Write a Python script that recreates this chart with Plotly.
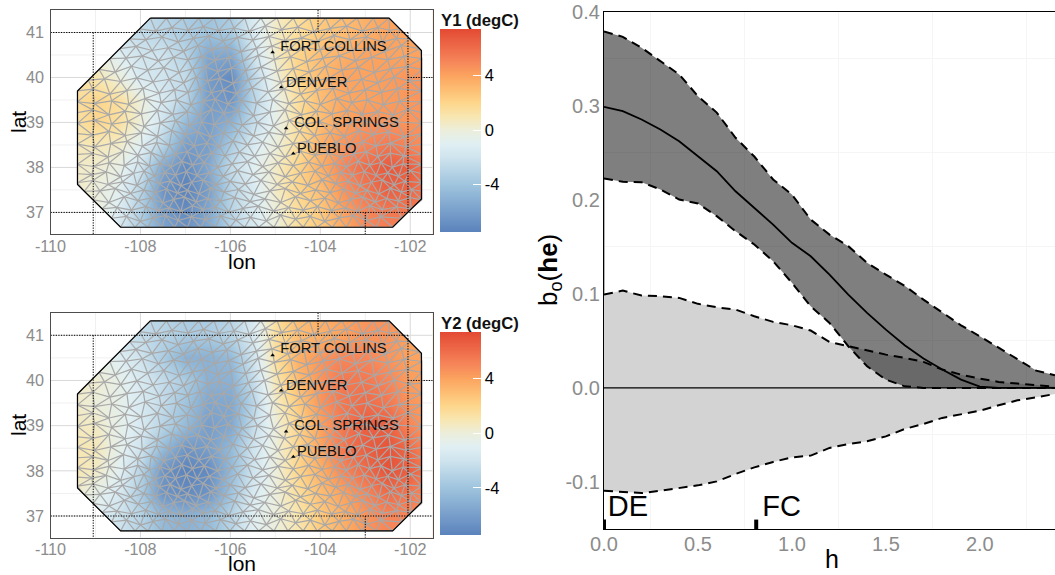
import plotly.graph_objects as go

W, H = 1055, 575

# ---------- Map data: temperature fields ----------
LON = [-109.5, -109, -108.5, -108, -107.5, -107, -106.5, -106, -105.5, -105, -104.5, -104, -103.5, -103, -102.5, -102, -101.5]
LAT = [36.5, 37, 37.5, 38, 38.5, 39, 39.5, 40, 40.5, 41, 41.5]
Y1 = [
    [0.3, 0.0, -1.5, -3.5, -5.5, -6.5, -5.5, -3.0, -1.5, 0.0, 1.5, 2.5, 3.5, 4.8, 5.2, 5.2, 5.0],
    [0.4, 0.0, -1.2, -3.3, -6.0, -7.0, -5.5, -3.0, -1.5, 0.0, 1.5, 2.5, 4.0, 5.0, 5.5, 5.5, 5.0],
    [0.5, 0.0, -0.8, -3.0, -6.5, -7.4, -6.0, -3.0, -1.5, 0.5, 2.0, 3.0, 4.5, 5.5, 6.5, 6.3, 5.0],
    [0.5, 0.3, -0.3, -2.0, -5.5, -7.0, -5.5, -2.5, -1.0, 0.5, 2.0, 3.5, 5.0, 6.0, 6.8, 6.5, 5.0],
    [0.8, 0.8, 0.5, -1.0, -3.0, -6.0, -6.0, -3.5, -1.5, 0.0, 1.5, 3.5, 4.5, 5.0, 5.5, 5.0, 4.5],
    [1.2, 2.0, 1.5, 0.0, -2.0, -4.5, -6.0, -5.0, -2.5, -0.5, 1.5, 3.0, 4.0, 4.5, 4.5, 4.5, 4.5],
    [1.5, 2.0, 1.5, 0.0, -1.5, -3.0, -6.0, -6.5, -3.0, -0.5, 1.5, 3.0, 3.8, 4.0, 4.2, 4.4, 4.5],
    [1.0, 1.0, 0.0, -1.5, -2.0, -2.5, -6.0, -7.0, -3.0, 0.0, 2.0, 3.0, 4.0, 4.0, 4.2, 4.5, 4.5],
    [0.5, 0.0, -1.0, -2.0, -2.0, -3.0, -5.5, -5.5, -2.0, 0.5, 2.0, 3.0, 3.5, 4.0, 4.0, 4.0, 4.0],
    [0.0, -1.0, -2.0, -2.5, -3.0, -3.5, -4.0, -3.5, -1.5, 0.5, 1.5, 2.5, 3.0, 3.5, 4.0, 4.0, 4.0],
    [0.0, -1.0, -2.0, -2.5, -3.0, -3.5, -4.0, -3.5, -1.5, 0.5, 1.5, 2.5, 3.0, 3.5, 4.0, 4.0, 4.0],
]
Y2 = [
    [-1.0, -1.0, -2.0, -3.0, -4.5, -5.0, -4.5, -3.0, -1.0, 0.0, 1.0, 2.5, 3.5, 4.5, 5.0, 5.0, 4.0],
    [-1.0, -1.0, -2.0, -3.0, -4.5, -5.0, -4.5, -3.0, -1.0, 0.0, 1.0, 2.5, 3.5, 4.5, 5.0, 5.0, 4.0],
    [0.5, -0.5, -1.5, -3.5, -6.5, -7.0, -6.5, -4.0, -1.5, 0.0, 1.5, 3.0, 4.0, 5.0, 6.0, 5.5, 4.5],
    [1.0, 0.5, -0.8, -3.0, -6.5, -7.4, -7.0, -4.5, -2.0, 0.0, 2.0, 3.5, 5.0, 6.0, 7.0, 6.5, 5.0],
    [1.0, 0.8, -0.5, -2.0, -4.5, -6.5, -6.0, -4.5, -2.0, 0.0, 2.0, 4.0, 5.5, 6.5, 7.0, 6.0, 4.5],
    [0.7, 0.5, -0.5, -1.5, -3.0, -4.5, -6.0, -5.5, -2.5, 0.0, 2.0, 4.0, 5.5, 6.5, 6.5, 5.0, 4.0],
    [0.5, 0.0, -0.5, -1.5, -2.5, -4.0, -5.5, -5.5, -3.0, 0.5, 2.5, 4.5, 5.5, 6.0, 5.5, 4.5, 4.0],
    [0.5, 0.3, -0.5, -1.5, -2.5, -3.5, -5.0, -5.0, -2.5, 1.0, 3.0, 4.5, 5.5, 5.5, 5.0, 4.2, 4.0],
    [0.0, -0.5, -1.0, -2.0, -3.5, -5.0, -5.0, -4.5, -2.0, 1.5, 3.5, 4.5, 5.0, 5.0, 4.5, 4.0, 4.0],
    [-0.5, -1.0, -2.0, -2.5, -3.0, -3.5, -3.5, -3.0, -1.5, 1.5, 3.0, 3.5, 4.0, 4.5, 4.5, 4.0, 4.0],
    [-0.5, -1.0, -2.0, -2.5, -3.0, -3.5, -3.5, -3.0, -1.5, 1.5, 3.0, 3.5, 4.0, 4.5, 4.5, 4.0, 4.0],
]
Z_RANGE = [-7.45, 7.4]
COLOR_STOPS = [(-7.45, "#5b83bc"), (-4, "#9fc4de"), (-2, "#cfe4ee"), (-1, "#e0eff3"), (0, "#eceedb"),
               (1, "#f8e6b0"), (2, "#fdd68b"), (3, "#fdbd72"), (4, "#fba35f"), (5, "#f6865a"),
               (6, "#ee6c4a"), (7.4, "#e34a33")]

REGION_LON = [-107.78, -102.47, -101.75, -101.75, -102.39, -108.44, -109.4, -109.4, -107.78]
REGION_LAT = [41.32, 41.32, 40.6, 37.3, 36.67, 36.67, 37.62, 39.7, 41.32]

CITY = ["FORT COLLINS", "DENVER", "COL. SPRINGS", "PUEBLO"]
CITY_LON = [-105.06, -104.87, -104.76, -104.6]
CITY_LAT = [40.56, 39.78, 38.87, 38.31]
CITY_LABEL_LON = [-104.89, -104.76, -104.58, -104.52]
CITY_LABEL_LAT = [40.68, 39.88, 38.98, 38.41]

# Mesh nodes, row by row
MESH_LAT = [36.67, 36.87, 37.08, 37.28, 37.47, 37.66, 37.86, 38.07, 38.29, 38.52, 38.75,
            38.98, 39.22, 39.46, 39.7, 39.94, 40.18, 40.42, 40.64, 40.86, 41.08, 41.32]
MESH_LON = [
    [-108.44,-108.12,-107.83,-107.52,-107.24,-106.95,-106.66,-106.33,-106.01,-105.68,-105.37,-105.03,-104.72,-104.38,-104.07,-103.73,-103.42,-103.08,-102.75,-102.39],
    [-108.64,-108.31,-108.0,-107.72,-107.44,-107.16,-106.87,-106.56,-106.22,-105.88,-105.55,-105.2,-104.88,-104.55,-104.22,-103.9,-103.58,-103.27,-102.97,-102.66,-102.19],
    [-108.85,-108.52,-108.2,-107.88,-107.6,-107.36,-107.1,-106.84,-106.6,-106.34,-106.03,-105.72,-105.38,-105.04,-104.7,-104.38,-104.06,-103.75,-103.44,-103.17,-102.9,-102.62,-102.3,-101.98],
    [-109.05,-108.7,-108.36,-108.05,-107.76,-107.5,-107.26,-107.02,-106.76,-106.5,-106.22,-105.9,-105.56,-105.23,-104.88,-104.55,-104.22,-103.9,-103.6,-103.32,-103.05,-102.78,-102.52,-102.26,-102.0,-101.74],
    [-109.25,-108.9,-108.56,-108.22,-107.92,-107.66,-107.42,-107.18,-106.95,-106.7,-106.44,-106.14,-105.82,-105.48,-105.12,-104.78,-104.44,-104.1,-103.78,-103.48,-103.22,-102.96,-102.7,-102.44,-102.2,-101.97,-101.74],
    [-109.4,-109.06,-108.72,-108.4,-108.08,-107.82,-107.58,-107.34,-107.1,-106.86,-106.6,-106.32,-106.0,-105.67,-105.32,-104.96,-104.62,-104.28,-103.96,-103.66,-103.38,-103.12,-102.86,-102.62,-102.36,-102.12,-101.74],
    [-109.4,-109.08,-108.76,-108.44,-108.15,-107.92,-107.68,-107.46,-107.22,-106.98,-106.74,-106.47,-106.16,-105.84,-105.5,-105.14,-104.78,-104.44,-104.12,-103.82,-103.54,-103.28,-103.02,-102.76,-102.5,-102.26,-102.0,-101.74],
    [-109.4,-109.04,-108.7,-108.36,-108.06,-107.8,-107.56,-107.32,-107.08,-106.84,-106.58,-106.28,-105.96,-105.62,-105.28,-104.94,-104.6,-104.26,-103.96,-103.68,-103.42,-103.16,-102.9,-102.65,-102.4,-102.16,-101.74],
    [-109.4,-109.06,-108.72,-108.38,-108.06,-107.76,-107.48,-107.22,-106.96,-106.7,-106.42,-106.12,-105.8,-105.46,-105.12,-104.78,-104.44,-104.12,-103.82,-103.54,-103.26,-102.98,-102.72,-102.44,-102.14,-101.74],
    [-109.4,-109.02,-108.66,-108.3,-107.96,-107.64,-107.36,-107.08,-106.8,-106.52,-106.24,-105.94,-105.62,-105.28,-104.94,-104.6,-104.28,-103.96,-103.66,-103.36,-103.06,-102.76,-102.44,-102.1,-101.74],
    [-109.4,-109.06,-108.7,-108.34,-107.98,-107.62,-107.3,-107.0,-106.72,-106.44,-106.14,-105.82,-105.48,-105.14,-104.8,-104.46,-104.12,-103.78,-103.46,-103.14,-102.82,-102.48,-102.12,-101.74],
    [-109.4,-109.02,-108.64,-108.28,-107.92,-107.56,-107.22,-106.92,-106.64,-106.36,-106.06,-105.74,-105.4,-105.04,-104.7,-104.36,-104.02,-103.68,-103.34,-103.0,-102.66,-102.3,-101.74],
    [-109.4,-109.06,-108.7,-108.34,-107.98,-107.62,-107.28,-106.96,-106.68,-106.42,-106.14,-105.82,-105.48,-105.12,-104.78,-104.42,-104.08,-103.74,-103.4,-103.06,-102.72,-102.38,-102.06,-101.74],
    [-109.4,-109.02,-108.64,-108.26,-107.9,-107.54,-107.2,-106.88,-106.6,-106.34,-106.06,-105.76,-105.42,-105.06,-104.7,-104.34,-104.0,-103.64,-103.3,-102.96,-102.6,-102.24,-101.74],
    [-109.4,-109.06,-108.68,-108.3,-107.94,-107.58,-107.24,-106.94,-106.68,-106.42,-106.16,-105.86,-105.52,-105.16,-104.8,-104.44,-104.08,-103.72,-103.36,-103.0,-102.64,-102.28,-101.74],
    [-109.16,-108.8,-108.44,-108.08,-107.72,-107.36,-107.04,-106.76,-106.5,-106.24,-105.94,-105.6,-105.24,-104.88,-104.52,-104.16,-103.8,-103.44,-103.08,-102.72,-102.36,-102.02,-101.74],
    [-108.92,-108.56,-108.2,-107.84,-107.48,-107.14,-106.84,-106.56,-106.28,-105.98,-105.66,-105.32,-104.96,-104.6,-104.24,-103.88,-103.52,-103.16,-102.8,-102.44,-102.08,-101.74],
    [-108.68,-108.32,-107.96,-107.6,-107.26,-106.94,-106.64,-106.34,-106.04,-105.72,-105.38,-105.02,-104.66,-104.3,-103.94,-103.58,-103.22,-102.86,-102.5,-102.14,-101.74],
    [-108.46,-108.1,-107.74,-107.38,-107.04,-106.72,-106.4,-106.08,-105.76,-105.42,-105.08,-104.72,-104.36,-104.0,-103.64,-103.28,-102.92,-102.56,-102.2,-101.79],
    [-108.24,-107.88,-107.52,-107.16,-106.82,-106.48,-106.16,-105.84,-105.5,-105.14,-104.78,-104.42,-104.06,-103.7,-103.34,-102.98,-102.62,-102.3,-102.01],
    [-108.02,-107.66,-107.3,-106.94,-106.6,-106.26,-105.92,-105.58,-105.22,-104.86,-104.5,-104.14,-103.78,-103.42,-103.06,-102.72,-102.46,-102.23],
    [-107.78,-107.42,-107.06,-106.7,-106.36,-106.02,-105.68,-105.32,-104.96,-104.6,-104.24,-103.88,-103.52,-103.18,-102.82,-102.47],
]
NODE_SHIFT = [.05, -.04, .02, -.06, .07, -.02, .04, -.07, .01, .06, -.05, .03, -.03]

# State lines
STATE_LON = [-110, -102.05, None, -110, -101.5, None, -109.05, -109.05, None, -102.05, -102.05, None,
             -102.05, -101.5, None, -104.05, -104.05, None, -103, -103]
STATE_LAT = [41, 41, None, 37, 37, None, 41, 36.52, None, 41, 37, None, 40, 40, None, 41.5, 41, None, 37, 36.52]

# ---------- Right panel data ----------
H_GRID = [0, .1, .2, .3, .4, .5, .6, .7, .8, .9, 1.0, 1.1, 1.2, 1.3, 1.4, 1.5, 1.6, 1.7, 1.8, 1.9, 2.0, 2.1, 2.2, 2.3, 2.4]
B_MEAN = [.2989, .2943, .2854, .2748, .2623, .2464, .2304, .2091, .1915, .1737, .1543, .14, .1205, .0993, .0798, .062, .0453, .0312, .0195, .0088, .0014, 0, 0, 0, 0]
B_UP = [.379, .3733, .3617, .3475, .3333, .3102, .2927, .266, .246, .2216, .2056, .179, .163, .1507, .133, .1205, .1085, .0939, .0798, .0666, .0549, .0426, .0301, .0184, .0134]
B_LOW = [.2227, .2191, .2187, .211, .2003, .1961, .1826, .1666, .1525, .1347, .1117, .0868, .0691, .0443, .023, .0088, .0017, 0, 0, 0, 0, 0, 0, 0, 0]
ENV_UP = [.0993, .1035, .0982, .0975, .0957, .0894, .0857, .0833, .0762, .0702, .0666, .061, .0489, .0443, .04, .0354, .0319, .0277, .0195, .0141, .0098, .0064, .0046, .0028, .0014]
ENV_LOW = [-.1093, -.1107, -.1118, -.1093, -.1064, -.1036, -.0994, -.0915, -.0845, -.0787, -.0738, -.072, -.0638, -.0596, -.0568, -.0515, -.0437, -.0383, -.0319, -.0284, -.0242, -.0185, -.0132, -.01, -.0064]
RUG_H = [0.0, 0.81]
RUG_LABEL = ["DE", "FC"]
RUG_LABEL_H = [0.02, 0.842]

TICK_GREY = "#8c8c8c"
FONT = "Liberation Sans, Arial, sans-serif"


def colorscale():
    lo, hi = COLOR_STOPS[0][0], COLOR_STOPS[-1][0]
    return [[(v - lo) / (hi - lo), c] for v, c in COLOR_STOPS]


def mesh_edges():
    nodes = []
    last = len(MESH_LAT) - 1
    for i, (lat, row) in enumerate(zip(MESH_LAT, MESH_LON)):
        pts = []
        for j, lon in enumerate(row):
            edge = i in (0, last) or j in (0, len(row) - 1)
            pts.append((lon, lat + (0 if edge else NODE_SHIFT[(i * 5 + j) % 13])))
        nodes.append(pts)
    xs, ys = [], []

    def seg(a, b):
        xs.extend([a[0], b[0], None])
        ys.extend([a[1], b[1], None])

    for row in nodes:
        for a, b in zip(row, row[1:]):
            seg(a, b)
    for a_row, b_row in zip(nodes, nodes[1:]):
        i = j = 0
        seg(a_row[0], b_row[0])
        while i < len(a_row) - 1 or j < len(b_row) - 1:
            if j == len(b_row) - 1:
                i += 1
            elif i == len(a_row) - 1:
                j += 1
            elif abs(a_row[i + 1][0] - b_row[j][0]) <= abs(a_row[i][0] - b_row[j + 1][0]):
                i += 1
            else:
                j += 1
            seg(a_row[i], b_row[j])
    return xs, ys


def region_span_at_lat(c):
    hits = []
    for k in range(len(REGION_LON) - 1):
        x0, x1, y0, y1 = REGION_LON[k], REGION_LON[k + 1], REGION_LAT[k], REGION_LAT[k + 1]
        if y0 != y1 and min(y0, y1) <= c <= max(y0, y1):
            hits.append(x0 + (c - y0) * (x1 - x0) / (y1 - y0))
    return (min(hits), max(hits)) if hits else None


def region_span_at_lon(c):
    hits = []
    for k in range(len(REGION_LON) - 1):
        x0, x1, y0, y1 = REGION_LON[k], REGION_LON[k + 1], REGION_LAT[k], REGION_LAT[k + 1]
        if x0 != x1 and min(x0, x1) <= c <= max(x0, x1):
            hits.append(y0 + (c - x0) * (y1 - y0) / (x1 - x0))
    return (min(hits), max(hits)) if hits else None


XR = [-110.0, -101.5]
YR = [36.52, 41.5]


def grid_outside(lons, lats):
    xs, ys = [], []
    for c in lats:
        span = region_span_at_lat(c)
        if span is None:
            xs += [XR[0], XR[1], None]
            ys += [c, c, None]
            continue
        a, b = span
        xs += [XR[0], a, None, b, XR[1], None]
        ys += [c, c, None, c, c, None]
    for c in lons:
        span = region_span_at_lon(c)
        if span is None:
            xs += [c, c, None]
            ys += [YR[0], YR[1], None]
            continue
        a, b = span
        xs += [c, c, None, c, c, None]
        ys += [YR[0], a, None, b, YR[1], None]
    return xs, ys


fig = go.Figure()
mesh_x, mesh_y = mesh_edges()
maj_x, maj_y = grid_outside([-110, -108, -106, -104, -102], [37, 38, 39, 40, 41])
min_x, min_y = grid_outside([-109, -107, -105, -103], [36.5, 37.5, 38.5, 39.5, 40.5])
rect_x = [XR[0] - 1, XR[1] + 1, XR[1] + 1, XR[0] - 1, XR[0] - 1]
rect_y = [YR[0] - 1, YR[0] - 1, YR[1] + 1, YR[1] + 1, YR[0] - 1]


def text_note(text, x_px, y_px, size, angle=0):
    fig.add_annotation(text=text, xref="paper", yref="paper", x=x_px / W, y=1 - y_px / H, xanchor="center",
                       yanchor="middle", showarrow=False, textangle=angle,
                       font=dict(size=size, color="black", family=FONT))


for k, (z, title, top_px, bot_px) in enumerate([(Y1, "Y1 (degC)", 29, 231.7), (Y2, "Y2 (degC)", 332, 535)]):
    xa = "x" if k == 0 else "x2"
    ya = "y" if k == 0 else "y2"
    fig.add_trace(go.Heatmap(
        x=LON, y=LAT, z=z, zmin=Z_RANGE[0], zmax=Z_RANGE[1], zsmooth="best", colorscale=colorscale(),
        xaxis=xa, yaxis=ya, hoverinfo="skip",
        colorbar=dict(x=440 / W, xanchor="left", xpad=0, y=1 - (top_px + bot_px) / 2 / H, yanchor="middle", ypad=0,
                      len=bot_px - top_px, lenmode="pixels", thickness=41, thicknessmode="pixels",
                      outlinewidth=0, borderwidth=0, ticks="inside", ticklen=8, tickcolor="white", tickwidth=1,
                      tickmode="array", tickvals=[-4, 0, 4], ticktext=["-4", "0", "4"],
                      tickfont=dict(size=16.5, color="black", family=FONT))))
    fig.add_trace(go.Scatter(x=rect_x + REGION_LON + rect_x[:1], y=rect_y + REGION_LAT + rect_y[:1], mode="none",
                             fill="toself", fillcolor="white", xaxis=xa, yaxis=ya, hoverinfo="skip", showlegend=False))
    fig.add_trace(go.Scatter(x=min_x, y=min_y, mode="lines", line=dict(color="#f0f0f0", width=1),
                             xaxis=xa, yaxis=ya, hoverinfo="skip", showlegend=False))
    fig.add_trace(go.Scatter(x=maj_x, y=maj_y, mode="lines", line=dict(color="#d9d9d9", width=1),
                             xaxis=xa, yaxis=ya, hoverinfo="skip", showlegend=False))
    fig.add_trace(go.Scatter(x=mesh_x, y=mesh_y, mode="lines", line=dict(color="#a8a8a8", width=1.2),
                             xaxis=xa, yaxis=ya, hoverinfo="skip", showlegend=False))
    fig.add_trace(go.Scatter(x=REGION_LON, y=REGION_LAT, mode="lines", line=dict(color="black", width=1.2),
                             xaxis=xa, yaxis=ya, hoverinfo="skip", showlegend=False))
    fig.add_trace(go.Scatter(x=STATE_LON, y=STATE_LAT, mode="lines", line=dict(color="black", width=1, dash="1.3px,1.3px"),
                             xaxis=xa, yaxis=ya, hoverinfo="skip", showlegend=False))
    fig.add_trace(go.Scatter(x=CITY_LON, y=CITY_LAT, mode="markers",
                             marker=dict(symbol="triangle-up", size=4, color="black"),
                             xaxis=xa, yaxis=ya, hoverinfo="skip", showlegend=False))
    fig.add_trace(go.Scatter(x=CITY_LABEL_LON, y=CITY_LABEL_LAT, mode="text", text=CITY, textposition="middle right",
                             textfont=dict(size=14.7, color="#111111", family=FONT),
                             xaxis=xa, yaxis=ya, hoverinfo="skip", showlegend=False))
    fig.add_annotation(text="<b>%s</b>" % title, xref="paper", yref="paper", x=440 / W, xanchor="left",
                       y=1 - (top_px - 8.5) / H, yanchor="middle", showarrow=False, xshift=-1,
                       font=dict(size=16.7, color="#111111", family=FONT))
    for v in [-4, 0, 4]:
        fig.add_shape(type="line", xref="paper", yref="paper", x0=440 / W, x1=448 / W,
                      y0=1 - ((top_px + bot_px) / 2 - v * (bot_px - top_px) / 14.85) / H,
                      y1=1 - ((top_px + bot_px) / 2 - v * (bot_px - top_px) / 14.85) / H,
                      line=dict(color="white", width=1))

text_note("lon", 241.5, 261, 21)
text_note("lon", 241.5, 563, 21)
text_note("lat", 18, 122, 21, -90)
text_note("lat", 18, 425, 21, -90)
text_note("h", 832, 559, 25)
text_note("b<sub>o</sub>(<b>he</b>)", 549, 270, 26, -90)

# Right panel
rk = dict(xaxis="x3", yaxis="y3", hoverinfo="skip", showlegend=False)
dash = "9px,6px"
clear = dict(color="rgba(0,0,0,0)", width=0)
fig.add_trace(go.Scatter(x=H_GRID, y=ENV_LOW, mode="lines", line=clear, **rk))
fig.add_trace(go.Scatter(x=H_GRID, y=ENV_UP, mode="lines", line=clear, fill="tonexty", fillcolor="#d3d3d3", **rk))
fig.add_trace(go.Scatter(x=H_GRID, y=B_LOW, mode="lines", line=clear, **rk))
fig.add_trace(go.Scatter(x=H_GRID, y=B_UP, mode="lines", line=clear, fill="tonexty", fillcolor="rgba(0,0,0,0.5)", **rk))
fig.add_trace(go.Scatter(x=[0, 2.4], y=[0, 0], mode="lines", line=dict(color="black", width=1.2), **rk))
fig.add_trace(go.Scatter(x=[0, 0], y=[0.222, 0.1], mode="lines", line=dict(color="#999999", width=1.5), **rk))
for s in (ENV_LOW, ENV_UP, B_LOW, B_UP):
    fig.add_trace(go.Scatter(x=H_GRID, y=s, mode="lines", line=dict(color="black", width=2, dash=dash), **rk))
fig.add_trace(go.Scatter(x=H_GRID, y=B_MEAN, mode="lines", line=dict(color="black", width=1.8), **rk))
for h in RUG_H:
    fig.add_trace(go.Scatter(x=[h, h], y=[-0.15, -0.14], mode="lines", line=dict(color="black", width=4), **rk))
fig.add_trace(go.Scatter(x=RUG_LABEL_H, y=[-0.1285, -0.1285], mode="text", text=RUG_LABEL, textposition="middle right",
                         textfont=dict(size=29, color="black", family=FONT), **rk))

map_common = dict(showline=True, mirror=True, linecolor="#4d4d4d", linewidth=1.3, showgrid=False, zeroline=False,
                  automargin=False, tickfont=dict(size=16.2, color=TICK_GREY, family=FONT), layer="above traces",
                  ticks="outside", tickcolor="rgba(0,0,0,0)")
x_ticks = dict(tickmode="array", tickvals=[-110, -108, -106, -104, -102], ticktext=["-110", "-108", "-106", "-104", "-102"],
               ticklen=1, ticklabelstandoff=-4)
y_ticks = dict(tickmode="array", tickvals=[37, 38, 39, 40, 41], ticktext=["37", "38", "39", "40", "41"], ticklen=2)
x_dom = [50.5 / W, 432.7 / W]

panel_font = dict(size=20, color=TICK_GREY, family=FONT)
fig.update_layout(
    width=W, height=H, margin=dict(l=0, r=0, t=0, b=0, autoexpand=False), paper_bgcolor="white", plot_bgcolor="white",
    showlegend=False, font=dict(family=FONT),
    xaxis=dict(domain=x_dom, range=XR, anchor="y", **x_ticks, **map_common),
    yaxis=dict(domain=[1 - 234 / H, 1 - 10 / H], range=YR, anchor="x", **y_ticks, **map_common),
    xaxis2=dict(domain=x_dom, range=XR, anchor="y2", **x_ticks, **map_common),
    yaxis2=dict(domain=[1 - 537.7 / H, 1 - 312.7 / H], range=[36.52, 41.5], anchor="x2", **y_ticks, **map_common),
    xaxis3=dict(domain=[604 / W, 1], range=[0, 2.4], anchor="y3", showline=True, mirror=True, linecolor="black", linewidth=1.2,
                showgrid=False, zeroline=False, ticks="outside", ticklen=1, ticklabelstandoff=-4, tickcolor="rgba(0,0,0,0)", automargin=False,
                tickmode="array", tickvals=[0, .5, 1, 1.5, 2], ticktext=["0.0", "0.5", "1.0", "1.5", "2.0"],
                tickfont=panel_font, layer="below traces",
                minor=dict(tickmode="array", tickvals=[.25, .75, 1.25, 1.75, 2.25], showgrid=True, gridcolor="#f5f5f5", gridwidth=1, ticks="")),
    yaxis3=dict(domain=[1 - 529 / H, 1 - 11.7 / H], range=[-0.15, 0.4], anchor="x3", showline=True, mirror=True, linecolor="black", linewidth=1.2,
                showgrid=False, zeroline=False, ticks="outside", ticklen=1, ticklabelstandoff=-2, tickcolor="rgba(0,0,0,0)", automargin=False,
                tickmode="array", tickvals=[-.1, 0, .1, .2, .3, .4], ticktext=["-0.1", "0.0", "0.1", "0.2", "0.3", "0.4"],
                tickfont=panel_font, layer="below traces",
                minor=dict(tickmode="array", tickvals=[-.05, .05, .15, .25, .35], showgrid=True, gridcolor="#f5f5f5", gridwidth=1, ticks="")),
)

fig.write_html("out.html", config={"displayModeBar": False},
               post_script="document.body.style.margin='0';document.body.style.overflow='hidden';")
